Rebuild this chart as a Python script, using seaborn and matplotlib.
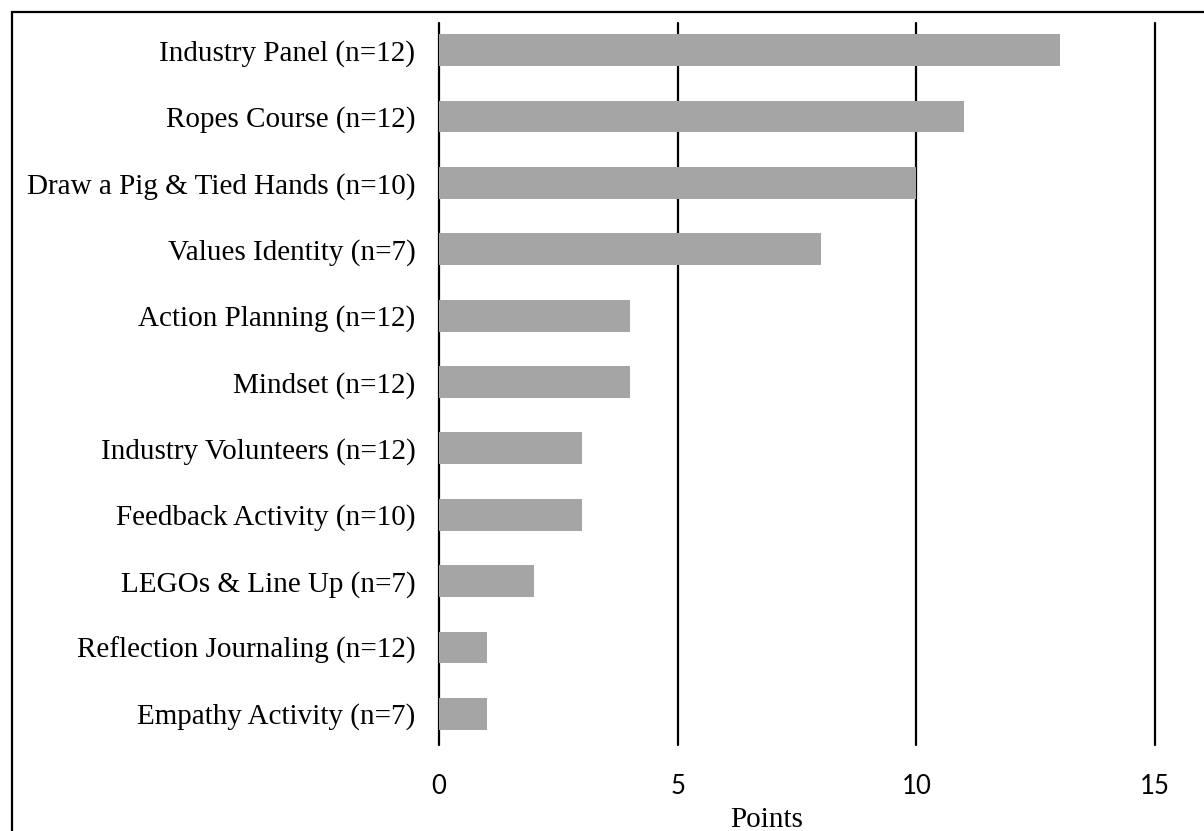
import numpy as np
import pandas as pd
import matplotlib
matplotlib.use("Agg")
import matplotlib.pyplot as plt
import seaborn as sns
from matplotlib.patches import Rectangle

activities = [
    "Industry Panel (n=12)",
    "Ropes Course (n=12)",
    "Draw a Pig & Tied Hands (n=10)",
    "Values Identity (n=7)",
    "Action Planning (n=12)",
    "Mindset (n=12)",
    "Industry Volunteers (n=12)",
    "Feedback Activity (n=10)",
    "LEGOs & Line Up (n=7)",
    "Reflection Journaling (n=12)",
    "Empathy Activity (n=7)",
]
points = [13, 11, 10, 8, 4, 4, 3, 3, 2, 1, 1]
x_ticks = [0, 5, 10, 15]

df = pd.DataFrame({"activity": activities, "points": points})

sns.set_style("white")
serif = ["Liberation Serif", "DejaVu Serif"]

fig = plt.figure(figsize=(12.04, 8.31), dpi=100)
ax = fig.add_axes([439 / 1204, 1 - 745 / 831, (1155 - 439) / 1204, (745 - 23) / 831])

sns.barplot(data=df, x="points", y="activity", color="#a5a5a5", width=0.48,
            saturation=1, linewidth=0, ax=ax, zorder=2)

ax.set_xlim(0, 15)
ax.set_ylim(10.47, -0.41)
ax.set_xticks(x_ticks)
for x in x_ticks:
    ax.axvline(x, color="black", lw=1.6, zorder=1, clip_on=False)

for s in ax.spines.values():
    s.set_visible(False)

ax.tick_params(axis="y", length=0, pad=17, labelcolor="black")
ax.tick_params(axis="x", length=0, pad=21, labelcolor="black")
for lbl in ax.get_yticklabels():
    lbl.set_fontfamily(serif)
    lbl.set_fontsize(21)
for lbl in ax.get_xticklabels():
    lbl.set_fontfamily(["Lato", "DejaVu Sans"])
    lbl.set_fontsize(18.5)

ax.set_ylabel("")
ax.set_xlabel("Points", fontfamily=serif, fontsize=21, color="black", va="baseline")
ax.xaxis.set_label_coords(0.458, -0.1136)

# outer frame
fig.patches.append(Rectangle((12 / 1204, -0.1), 1.2, 1 - 12 / 831 + 0.1,
                             transform=fig.transFigure, fill=False,
                             edgecolor="black", lw=1.6))

fig.savefig("out.png", dpi=100)
